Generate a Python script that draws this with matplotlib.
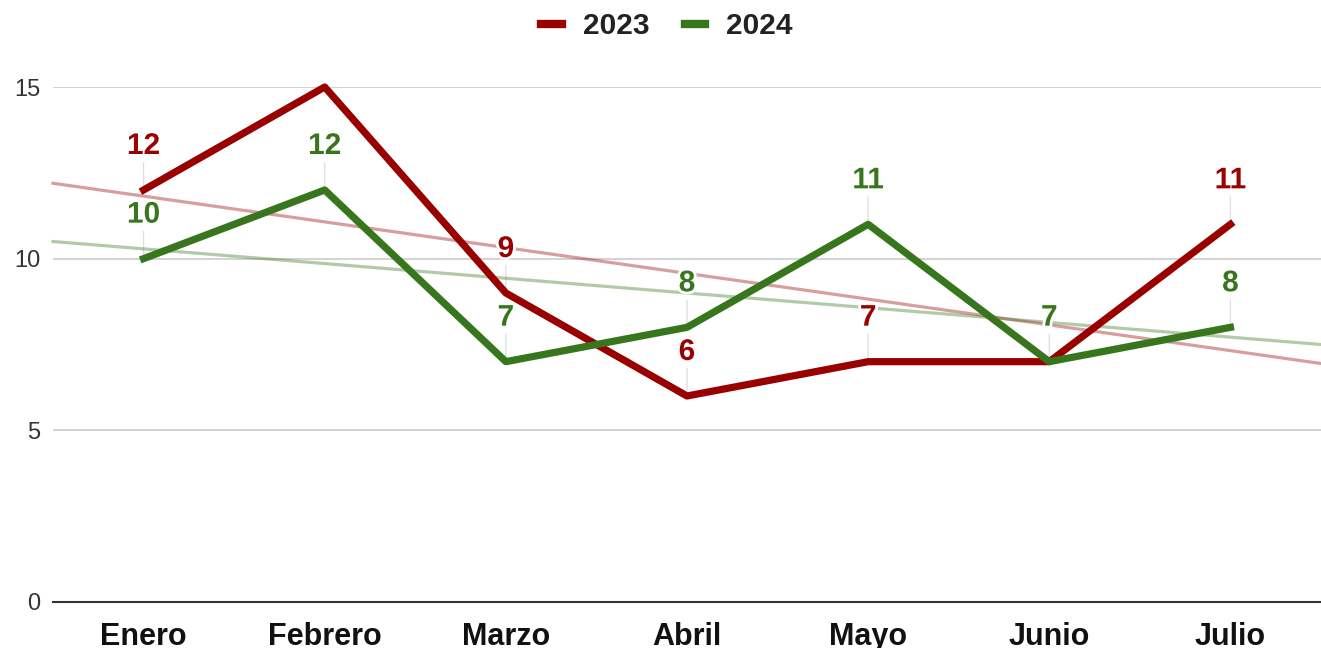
import numpy as np
import matplotlib
matplotlib.use("Agg")
import matplotlib.pyplot as plt
import matplotlib.patheffects as pe

months = ["Enero", "Febrero", "Marzo", "Abril", "Mayo", "Junio", "Julio"]
v2023 = [12, 15, 9, 6, 7, 7, 11]
v2024 = [10, 12, 7, 8, 11, 7, 8]
show2023 = [True, False, True, True, True, False, True]
show2024 = [True, True, True, True, True, True, True]
yticks = [0, 5, 10, 15]

c23 = "#990000"
c24 = "#38761d"

plt.rcParams['font.family'] = ['Liberation Sans', 'DejaVu Sans']

fig = plt.figure(figsize=(13.21, 6.48), dpi=100)
ax = fig.add_axes([53/1321, 1-602/648, 1-53/1321, (602-87)/648])

x = np.arange(len(months))
ax.set_xlim(-0.5, len(months)-0.5)
ax.set_ylim(0, 15)

for yt in yticks[1:]:
    ax.axhline(yt, color="#cccccc", lw=1.2, zorder=0)
ax.axhline(0, color="#333333", lw=1.5, zorder=1, clip_on=False)

# trendlines
xt = np.array([-0.5, len(months)-0.5])
for vals, c in [(v2023, c23), (v2024, c24)]:
    k, b = np.polyfit(x, vals, 1)
    ax.plot(xt, k*xt + b, color=c, alpha=0.38, lw=2.3, zorder=2, clip_on=False)

l1, = ax.plot(x, v2023, color=c23, lw=5.2, zorder=4, clip_on=False, label="2023")
l2, = ax.plot(x, v2024, color=c24, lw=5.2, zorder=5, clip_on=False, label="2024")

off = 44 * 72 / 100
for vals, shows, c in [(v2023, show2023, c23), (v2024, show2024, c24)]:
    for xi, v, s in zip(x, vals, shows):
        if not s:
            continue
        # leader line (below data lines)
        ax.annotate("", xy=(xi, v), xytext=(0, off - 12), textcoords="offset points",
                    zorder=1.5,
                    arrowprops=dict(arrowstyle="-", color="#dddddd", lw=0.9,
                                    shrinkA=0, shrinkB=0),
                    annotation_clip=False)
        ax.annotate(str(v), xy=(xi, v), xytext=(0, off), textcoords="offset points",
                    ha="center", va="center", fontsize=21.5, fontweight="bold", color=c,
                    zorder=6,
                    path_effects=[pe.withStroke(linewidth=4, foreground="white")],
                    annotation_clip=False)

ax.set_xticks(x)
ax.set_xticklabels(months, fontsize=22, fontweight="bold", color="#111111")
ax.set_yticks(yticks)
ax.set_yticklabels([str(t) for t in yticks], fontsize=17, color="#333333")
ax.tick_params(axis="x", length=0, pad=14.5)
ax.tick_params(axis="y", length=0, pad=9)
for sp in ax.spines.values():
    sp.set_visible(False)

leg = fig.legend(handles=[l1, l2], loc="center", bbox_to_anchor=(667/1321, 1-26/648),
                 ncol=2, frameon=False, handlelength=0.68, handletextpad=0.7,
                 columnspacing=1.2, prop=dict(size=21.5, weight="bold"))
for t in leg.get_texts():
    t.set_color("#222222")
for h in leg.get_lines():
    h.set_linewidth(6)

fig.savefig("out.png", dpi=100)
